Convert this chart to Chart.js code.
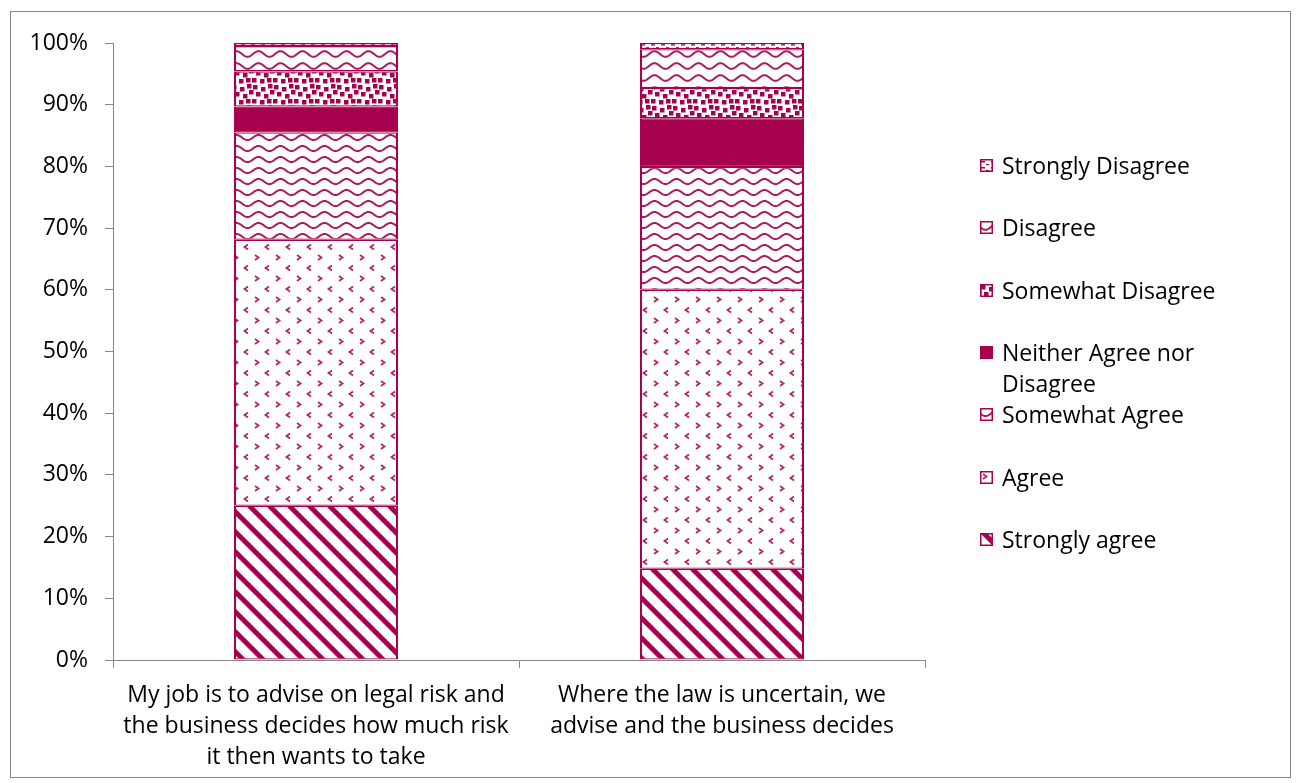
<!DOCTYPE html>
<html>
<head>
<meta charset="utf-8">
<script src="https://cdn.jsdelivr.net/npm/chart.js@4.4.1/dist/chart.umd.min.js"></script>
<style>
  html, body { margin: 0; padding: 0; background: #fff; }
  #wrap { width: 1296px; height: 783px; }
</style>
</head>
<body>
<div id="wrap"><canvas id="likertChart" width="1296" height="783"></canvas></div>
<script>
// data (percent of respondents)
const categories = [
  ["My job is to advise on legal risk and", "the business decides how much risk", "it then wants to take"],
  ["Where the law is uncertain, we", "advise and the business decides"]
];
const seriesNames = ["Strongly agree", "Agree", "Somewhat Agree", "Neither Agree nor Disagree", "Somewhat Disagree", "Disagree", "Strongly Disagree"];
const stronglyAgree = [25.0, 14.8];
const agree = [43.1, 45.2];
const somewhatAgree = [17.4, 19.9];
const neitherAgree = [4.2, 7.9];
const somewhatDisagree = [5.7, 4.9];
const disagree = [4.1, 6.3];
const stronglyDisagree = [0.5, 1.0];
const yTicks = [0, 10, 20, 30, 40, 50, 60, 70, 80, 90, 100];

const berry = '#A6004F';
const axisGrey = '#868686';
const fontFamily = "'Open Sans', 'Noto Sans', sans-serif";
const fontSize = 23;

const canvas = document.getElementById('likertChart');
const ctx = canvas.getContext('2d');

function makeTile(w, h, draw) {
    const c = document.createElement('canvas');
    c.width = w;
    c.height = h;
    const g = c.getContext('2d');
    g.fillStyle = '#fff';
    g.fillRect(0, 0, w, h);
    g.fillStyle = berry;
    g.strokeStyle = berry;
    draw(g, w, h);
    return ctx.createPattern(c, 'repeat');
}

// wide downward diagonal
const diagPattern = makeTile(20, 20, (g) => {
    for (let k = -20; k <= 20; k += 20) {
        g.beginPath();
        g.moveTo(k, 0);
        g.lineTo(k + 7, 0);
        g.lineTo(k + 27, 20);
        g.lineTo(k + 20, 20);
        g.closePath();
        g.fill();
    }
});

// little chevrons
const chevronPattern = makeTile(21, 21, (g) => {
    g.globalAlpha = 0.85;
    g.lineWidth = 1.8;
    g.beginPath();
    g.moveTo(3, 3); g.lineTo(6.5, 5.5); g.lineTo(3, 8);
    g.moveTo(17, 13.5); g.lineTo(13.5, 16); g.lineTo(17, 18.5);
    g.stroke();
});

function wave(period, rowH, amp) {
    return makeTile(period, rowH, (g, w, h) => {
        g.lineWidth = 2;
        g.globalAlpha = 0.9;
        g.beginPath();
        for (let x = -1; x <= w + 1; x += 0.5) {
            const y = h / 2 + amp * Math.sin(2 * Math.PI * x / w);
            if (x === -1) g.moveTo(x, y); else g.lineTo(x, y);
        }
        g.stroke();
    });
}
const wavePattern = wave(22, 11, 2.6);
const wavePattern2 = wave(22, 12, 2.8);

const neitherColor = berry;

// large confetti
const confettiPattern = makeTile(21, 21, (g) => {
    const spots = [[1, 1], [9, 3], [16, 0], [4, 8], [12, 10], [18, 6], [0, 15], [8, 16], [15, 15]];
    spots.forEach(([x, y]) => {
        g.fillRect(x, y, 4.5, 4.5);
        if (x + 5 > 21) g.fillRect(x - 21, y, 4.5, 4.5);
    });
});

// small dashes
const dashPattern = makeTile(10, 6, (g) => {
    g.fillRect(1, 2, 4, 1.5);
    g.fillRect(6, 5, 3, 1);
});

const seriesData = [stronglyAgree, agree, somewhatAgree, neitherAgree, somewhatDisagree, disagree, stronglyDisagree];
const seriesFill = [diagPattern, chevronPattern, wavePattern, neitherColor, confettiPattern, wavePattern2, dashPattern];

const datasets = seriesNames.map((name, i) => ({
    label: name,
    data: seriesData[i],
    backgroundColor: seriesFill[i],
    borderColor: berry,
    borderWidth: { top: 1.3, bottom: 1.3, left: 2, right: 2 },
    borderSkipped: false,
    barPercentage: 0.404,
    categoryPercentage: 1.0
}));

const frameAndLegend = {
    id: 'frameAndLegend',
    afterDraw(chart) {
        const c = chart.ctx;
        c.save();
        c.strokeStyle = axisGrey;
        c.lineWidth = 1;
        c.strokeRect(10.5, 11.5, 1280, 766);

        // legend, reversed order like Excel
        c.font = fontSize + 'px ' + fontFamily;
        c.textBaseline = 'middle';
        const items = chart.data.datasets.slice().reverse();
        const x0 = 980, y0 = 166, step = 62.3, lineH = 31, maxW = 240;
        items.forEach((ds, i) => {
            const y = Math.round(y0 + i * step);
            c.save();
            c.translate(x0, y - 7);
            c.fillStyle = ds.backgroundColor;
            c.fillRect(0, 0, 13, 13);
            c.restore();
            c.strokeStyle = berry;
            c.lineWidth = 1.5;
            c.strokeRect(x0 + 0.75, y - 6.25, 11.5, 11.5);
            c.fillStyle = '#000';
            // crude word wrap
            const words = ds.label.split(' ');
            const lines = [];
            let cur = '';
            words.forEach(wd => {
                const test = cur ? cur + ' ' + wd : wd;
                if (c.measureText(test).width > maxW && cur) {
                    lines.push(cur);
                    cur = wd;
                } else {
                    cur = test;
                }
            });
            lines.push(cur);
            lines.forEach((ln, j) => c.fillText(ln, x0 + 22, y + 1 + j * lineH));
        });
        c.restore();
    }
};

new Chart(ctx, {
    type: 'bar',
    data: {
        labels: categories,
        datasets: datasets
    },
    options: {
        responsive: false,
        animation: false,
        layout: {
            padding: { left: 11, right: 371, top: 43, bottom: 0 }
        },
        plugins: {
            legend: { display: false },
            tooltip: { enabled: false }
        },
        scales: {
            x: {
                stacked: true,
                grid: {
                    offset: true,
                    drawOnChartArea: false,
                    drawTicks: true,
                    tickLength: 8,
                    color: axisGrey
                },
                border: { display: true, color: axisGrey, width: 1 },
                ticks: {
                    color: '#000',
                    padding: 12,
                    maxRotation: 0,
                    autoSkip: false,
                    font: { family: fontFamily, size: fontSize, lineHeight: 1.35 }
                },
                afterFit(scale) { scale.height = 123; }
            },
            y: {
                stacked: true,
                min: yTicks[0],
                max: yTicks[yTicks.length - 1],
                afterBuildTicks(scale) {
                    scale.ticks = yTicks.map(v => ({ value: v }));
                },
                grid: {
                    drawOnChartArea: false,
                    drawTicks: true,
                    tickLength: 8,
                    color: axisGrey
                },
                border: { display: true, color: axisGrey, width: 1 },
                ticks: {
                    color: '#000',
                    padding: 17,
                    font: { family: fontFamily, size: fontSize },
                    callback: (v) => v + '%'
                },
                afterFit(scale) { scale.width = 102; }
            }
        }
    },
    plugins: [frameAndLegend]
});
</script>
</body>
</html>
